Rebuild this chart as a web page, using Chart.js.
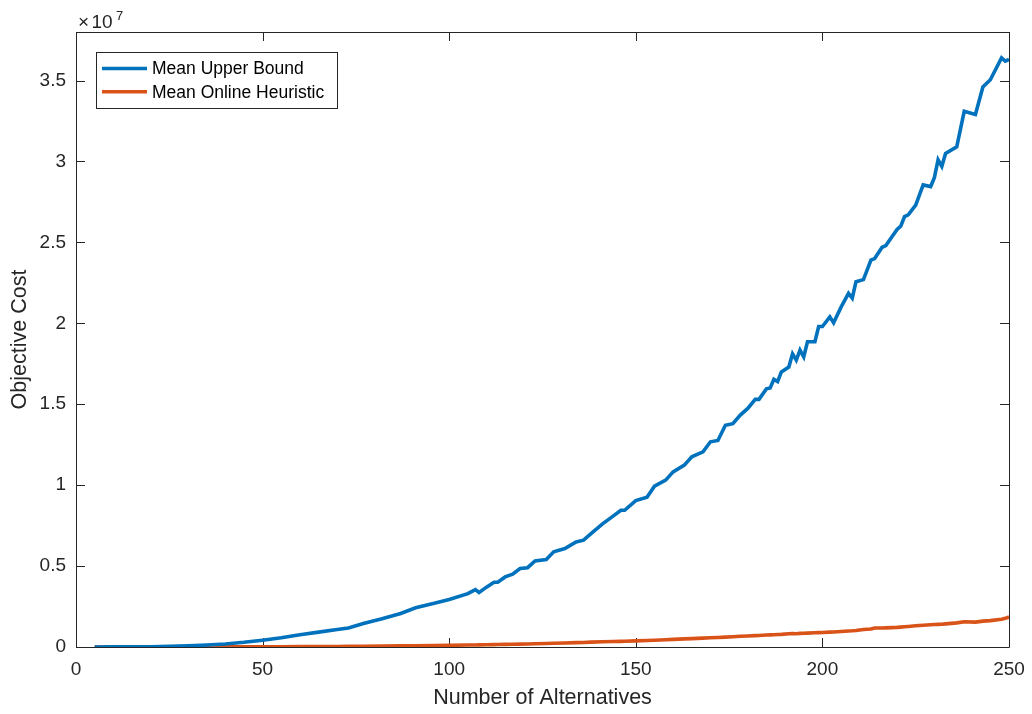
<!DOCTYPE html>
<html>
<head>
<meta charset="utf-8">
<script src="https://cdn.jsdelivr.net/npm/chart.js@4"></script>
<style>
  html, body { margin: 0; padding: 0; background: #fff; }
  #wrap { width: 1032px; height: 714px; position: relative; }
</style>
</head>
<body>
<div id="wrap"><canvas id="costChart"></canvas></div>
<script>
    // Number of alternatives (x) and mean objective cost, in units of 1e7
    const alternatives = [5, 10, 15, 20, 25, 30, 35, 40, 45, 50, 55, 60, 65, 70, 73, 77, 82, 87, 91, 96,
        100, 105, 107, 108, 110, 112, 113, 115, 117, 119, 121, 123, 126, 128, 131, 134, 136, 138,
        141, 144, 146, 147, 150, 153, 155, 158, 160, 163, 165, 168, 170, 172, 174, 176, 178, 180,
        182, 183, 185, 186, 187, 188, 189, 191, 192, 193, 194, 195, 196, 198, 199, 200, 202, 203,
        205, 207, 208, 209, 211, 213, 214, 216, 217, 220, 221, 222, 223, 225, 227, 229, 230, 231,
        232, 233, 236, 238, 241, 243, 245, 248, 249, 250];

    const upperBound = [0.000, 0.0005, 0.001, 0.002, 0.004, 0.007, 0.012, 0.019, 0.029, 0.042,
        0.057, 0.076, 0.092, 0.108, 0.117, 0.145, 0.174, 0.207, 0.242, 0.270,
        0.293, 0.330, 0.355, 0.337, 0.370, 0.400, 0.400, 0.433, 0.450, 0.485, 0.490, 0.532, 0.540, 0.588,
        0.608, 0.649, 0.660, 0.700, 0.759, 0.810, 0.845, 0.845, 0.905, 0.925, 0.994, 1.031, 1.082,
        1.124, 1.175, 1.206, 1.268, 1.276, 1.370, 1.380, 1.433, 1.474, 1.530, 1.530, 1.595, 1.600,
        1.654, 1.640, 1.700, 1.730, 1.812, 1.773, 1.835, 1.793, 1.886, 1.886, 1.980, 1.980, 2.040, 2.003,
        2.100, 2.185, 2.155, 2.257, 2.270, 2.390, 2.400, 2.470, 2.480, 2.580, 2.600, 2.660, 2.670, 2.730,
        2.855, 2.845, 2.900, 3.010, 2.970, 3.050, 3.090, 3.310, 3.290, 3.460, 3.505, 3.640, 3.620, 3.630];

    const onlineHeuristic = [0, 0, 0.0001, 0.0001, 0.0002, 0.0003, 0.0005, 0.0007, 0.001, 0.0013,
        0.0017, 0.0022, 0.0028, 0.0033, 0.0037, 0.0045, 0.0055, 0.0067, 0.0078, 0.0092,
        0.0103, 0.012, 0.0128, 0.0132, 0.014, 0.0149, 0.0153, 0.016, 0.017, 0.018, 0.019, 0.020, 0.022, 0.023,
        0.025, 0.027, 0.028, 0.030, 0.032, 0.034, 0.035, 0.036, 0.038, 0.040, 0.042, 0.045, 0.047,
        0.050, 0.052, 0.055, 0.057, 0.059, 0.061, 0.063, 0.066, 0.068, 0.070, 0.071, 0.074, 0.075,
        0.076, 0.077, 0.078, 0.082, 0.083, 0.082, 0.084, 0.085, 0.086, 0.088, 0.089, 0.090, 0.092, 0.093,
        0.096, 0.099, 0.100, 0.102, 0.108, 0.111, 0.117, 0.117, 0.118, 0.121, 0.123, 0.125, 0.127, 0.131,
        0.134, 0.137, 0.139, 0.140, 0.141, 0.143, 0.149, 0.156, 0.154, 0.160, 0.163, 0.172, 0.177, 0.185];

    const xTicks = [0, 50, 100, 150, 200, 250];
    const yTicks = [0, 0.5, 1, 1.5, 2, 2.5, 3, 3.5];

    const seriesNames = ['Mean Upper Bound', 'Mean Online Heuristic'];
    const seriesColors = ['#0072BD', '#D95319'];

    const ink = '#262626';
    const fontFamily = '"Liberation Sans", Arial, Helvetica, sans-serif';

    const toPoints = ys => alternatives.map((x, i) => ({ x: x, y: ys[i] }));

    // Box around the axes with inward ticks on all four sides
    const axesBox = {
        id: 'axesBox',
        beforeDatasetsDraw(chart) {
            const { ctx, chartArea: a, scales } = chart;
            const tl = 9;
            ctx.save();
            ctx.strokeStyle = ink;
            ctx.lineWidth = 1;
            ctx.beginPath();
            ctx.rect(Math.round(a.left) + 0.5, Math.round(a.top) + 0.5,
                Math.round(a.right - a.left), Math.round(a.bottom - a.top));
            ctx.stroke();
            ctx.beginPath();
            xTicks.forEach(v => {
                const px = Math.round(scales.x.getPixelForValue(v)) + 0.5;
                ctx.moveTo(px, a.bottom); ctx.lineTo(px, a.bottom - tl);
                ctx.moveTo(px, a.top); ctx.lineTo(px, a.top + tl);
            });
            yTicks.forEach(v => {
                const py = Math.round(scales.y.getPixelForValue(v)) + 0.5;
                ctx.moveTo(a.left, py); ctx.lineTo(a.left + tl, py);
                ctx.moveTo(a.right, py); ctx.lineTo(a.right - tl, py);
            });
            ctx.stroke();
            ctx.restore();
        },
        afterDraw(chart) {
            const { ctx, chartArea: a } = chart;
            ctx.save();
            // exponent label above the y axis
            ctx.fillStyle = ink;
            ctx.textBaseline = 'alphabetic';
            ctx.textAlign = 'left';
            ctx.font = '19px ' + fontFamily;
            ctx.fillText('\u00d7', a.left + 2, 27.5);
            ctx.fillText('10', a.left + 15.5, 27.5);
            ctx.font = '13px ' + fontFamily;
            ctx.fillText('7', a.left + 40, 20);

            // legend box
            const bx = a.left + 20, by = a.top + 19.5, bw = 240.5, bh = 56;
            ctx.fillStyle = '#fff';
            ctx.fillRect(bx, by, bw, bh);
            ctx.strokeStyle = ink;
            ctx.lineWidth = 1;
            ctx.strokeRect(Math.round(bx) + 0.5, Math.round(by) + 0.5, Math.round(bw), Math.round(bh));
            ctx.font = '17.5px ' + fontFamily;
            ctx.textBaseline = 'middle';
            chart.data.datasets.forEach((ds, i) => {
                const ry = by + 17 + i * 23.3;
                ctx.strokeStyle = ds.borderColor;
                ctx.lineWidth = 3.5;
                ctx.beginPath();
                ctx.moveTo(bx + 6, ry);
                ctx.lineTo(bx + 51, ry);
                ctx.stroke();
                ctx.fillStyle = '#000';
                ctx.fillText(ds.label, bx + 56, ry + 1);
            });
            ctx.restore();
        }
    };

    const ctx = document.getElementById('costChart').getContext('2d');

    new Chart(ctx, {
        type: 'line',
        data: {
            datasets: [
                {
                    label: seriesNames[0],
                    data: toPoints(upperBound),
                    borderColor: seriesColors[0],
                    borderWidth: 3.6,
                    pointRadius: 0,
                    tension: 0,
                    fill: false
                },
                {
                    label: seriesNames[1],
                    data: toPoints(onlineHeuristic),
                    borderColor: seriesColors[1],
                    borderWidth: 3.6,
                    pointRadius: 0,
                    tension: 0,
                    fill: false
                }
            ]
        },
        options: {
            responsive: true,
            maintainAspectRatio: false,
            animation: false,
            layout: { padding: { top: 32, right: 23, left: 0, bottom: 0 } },
            plugins: {
                legend: { display: false },
                tooltip: { enabled: false }
            },
            scales: {
                x: {
                    type: 'linear',
                    min: 0,
                    max: 250,
                    afterBuildTicks: s => { s.ticks = xTicks.map(v => ({ value: v })); },
                    afterFit: s => { s.height = 67; s.paddingLeft = 0; s.paddingRight = 0; },
                    grid: { display: false, drawTicks: false },
                    border: { display: false },
                    ticks: {
                        color: ink,
                        padding: 11.5,
                        maxRotation: 0,
                        font: { family: fontFamily, size: 19 }
                    },
                    title: {
                        display: true,
                        text: 'Number of Alternatives',
                        color: ink,
                        padding: { top: 0, bottom: 3 },
                        font: { family: fontFamily, size: 21.5 }
                    }
                },
                y: {
                    type: 'linear',
                    min: 0,
                    max: 3.8,
                    afterBuildTicks: s => { s.ticks = yTicks.map(v => ({ value: v })); },
                    afterFit: s => { s.width = 76; s.paddingTop = 0; s.paddingBottom = 0; },
                    grid: { display: false, drawTicks: false },
                    border: { display: false },
                    ticks: {
                        color: ink,
                        padding: 10,
                        font: { family: fontFamily, size: 19 },
                        callback: v => String(v)
                    },
                    title: {
                        display: true,
                        text: 'Objective Cost',
                        color: ink,
                        padding: { top: 7, bottom: 0 },
                        font: { family: fontFamily, size: 21.5 }
                    }
                }
            }
        },
        plugins: [axesBox]
    });
</script>
</body>
</html>
